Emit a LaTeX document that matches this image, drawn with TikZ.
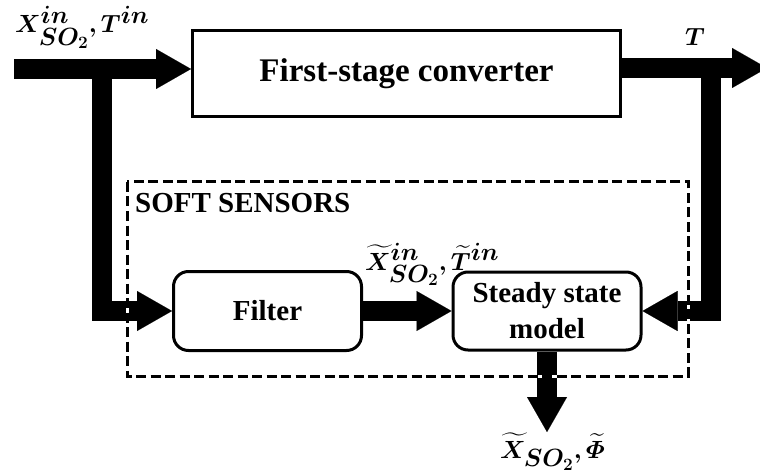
\documentclass[tikz,border=0pt]{standalone}
\usepackage{amsmath}
\usepackage{bm}
\usepackage{fontspec}
\setmainfont{Liberation Serif}
\DeclareMathSizes{31}{31}{23}{17}
\usetikzlibrary{arrows.meta}
\tikzset{
  box/.style={draw, line width=3pt, fill=white, inner sep=0pt, align=center,
    font=\fontsize{29}{36}\selectfont\bfseries},
  rbox/.style={box, rounded corners=15pt},
  fat/.style={line width=20pt, line join=miter,
    -{Triangle[length=35pt,width=40pt,line width=0.01pt]}},
  lbl/.style={inner sep=0pt, anchor=base west, font=\fontsize{31}{35}\selectfont},
}
\begin{document}
\begin{tikzpicture}[x=1pt,y=-1pt]
\useasboundingbox (0,0) rectangle (760,473);
% boxes
\node[box, minimum width=428pt, minimum height=86pt, font=\fontsize{33}{40}\selectfont\bfseries] (conv) at (406.5,74) {First-stage converter};
\node[rbox, minimum width=188pt, minimum height=79pt] (filter) at (267.5,311) {Filter};
\node[rbox, minimum width=188pt, minimum height=78pt] (ssm) at (547,311) {Steady state\\model};
% coordinates
\coordinate (inL) at (14,69);
\coordinate (brL) at (102,69);
\coordinate (brR) at (711,68);
\coordinate (outR) at (767,68);
\coordinate (outB) at (547,432);
% arrows
\draw[fat] (inL) -- (inL -| conv.west);
\draw[fat] (brL) |- (filter.west);
\draw[fat] (conv.east |- outR) -- (outR);
\draw[fat] (brR) |- (ssm.east);
\draw[fat] (filter.east) -- (ssm.west);
\draw[fat] (ssm.south) -- (outB);
% dashed frame on top
\draw[white, line width=3pt] (127,182) rectangle (688,376);
\draw[black, line width=3pt, dash pattern=on 10pt off 4.5pt] (127,182) rectangle (688,376);
\node[inner sep=0pt, anchor=base west, font=\fontsize{29}{34}\selectfont\bfseries] (soft) at (135,213) {SOFT SENSORS};
% labels
\node[lbl] (lin) at (15,33) {$\boldsymbol{X^{in}_{SO_2}, T^{in}}$};
\node[lbl] (lT) at (685,46) {$\boldsymbol{T}$};
\node[lbl] (lmid) at (365,270) {$\boldsymbol{\widetilde{X}^{in}_{SO_2}, \widetilde{T}^{in}}$};
\node[lbl] (lout) at (500,458) {$\boldsymbol{\widetilde{X}_{SO_2}, \widetilde{\varPhi}}$};
\end{tikzpicture}
\end{document}
